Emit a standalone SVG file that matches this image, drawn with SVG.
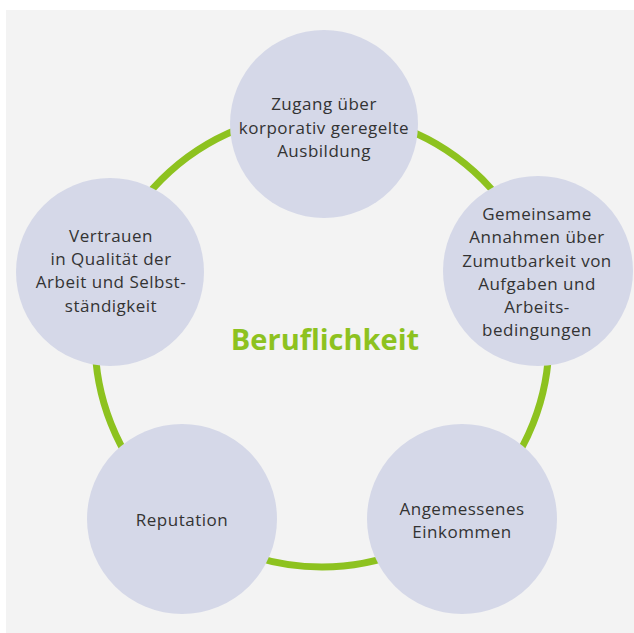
<svg xmlns="http://www.w3.org/2000/svg" width="634" height="633" viewBox="0 0 634 633">
<style>
.node circle{fill:#d5d8e8}
.node text{font-family:"Open Sans","Noto Sans",sans-serif;font-size:17px;fill:#333333;text-anchor:middle;letter-spacing:0.5px}
.ring{fill:none;stroke:#8dc21f;stroke-width:7}
.title{font-family:"Open Sans","Noto Sans",sans-serif;font-size:29px;font-weight:bold;fill:#8dc21f;text-anchor:middle}
</style>
<rect x="6" y="10" width="628" height="623" fill="#f3f3f3"/>
<g id="connectors">
<circle class="ring" cx="322" cy="340" r="227"/>
</g>
<text class="title" x="325" y="350">Beruflichkeit</text>
<g id="node-zugang" class="node">
<circle cx="324" cy="124" r="94"/>
<text x="324" y="110">Zugang über</text>
<text x="324" y="134">korporativ geregelte</text>
<text x="324" y="157">Ausbildung</text>
</g>
<g id="node-gemeinsame" class="node">
<circle cx="538" cy="271" r="95"/>
<text x="537" y="220">Gemeinsame</text>
<text x="537" y="243">Annahmen über</text>
<text x="537" y="267">Zumutbarkeit von</text>
<text x="537" y="290">Aufgaben und</text>
<text x="537" y="313">Arbeits-</text>
<text x="537" y="336">bedingungen</text>
</g>
<g id="node-einkommen" class="node">
<circle cx="462" cy="519" r="95"/>
<text x="462" y="515">Angemessenes</text>
<text x="462" y="538">Einkommen</text>
</g>
<g id="node-reputation" class="node">
<circle cx="182" cy="519" r="95"/>
<text x="182" y="526">Reputation</text>
</g>
<g id="node-vertrauen" class="node">
<circle cx="110" cy="272" r="94"/>
<text x="111" y="242">Vertrauen</text>
<text x="111" y="265">in Qualität der</text>
<text x="111" y="288">Arbeit und Selbst-</text>
<text x="111" y="312">ständigkeit</text>
</g>
</svg>
